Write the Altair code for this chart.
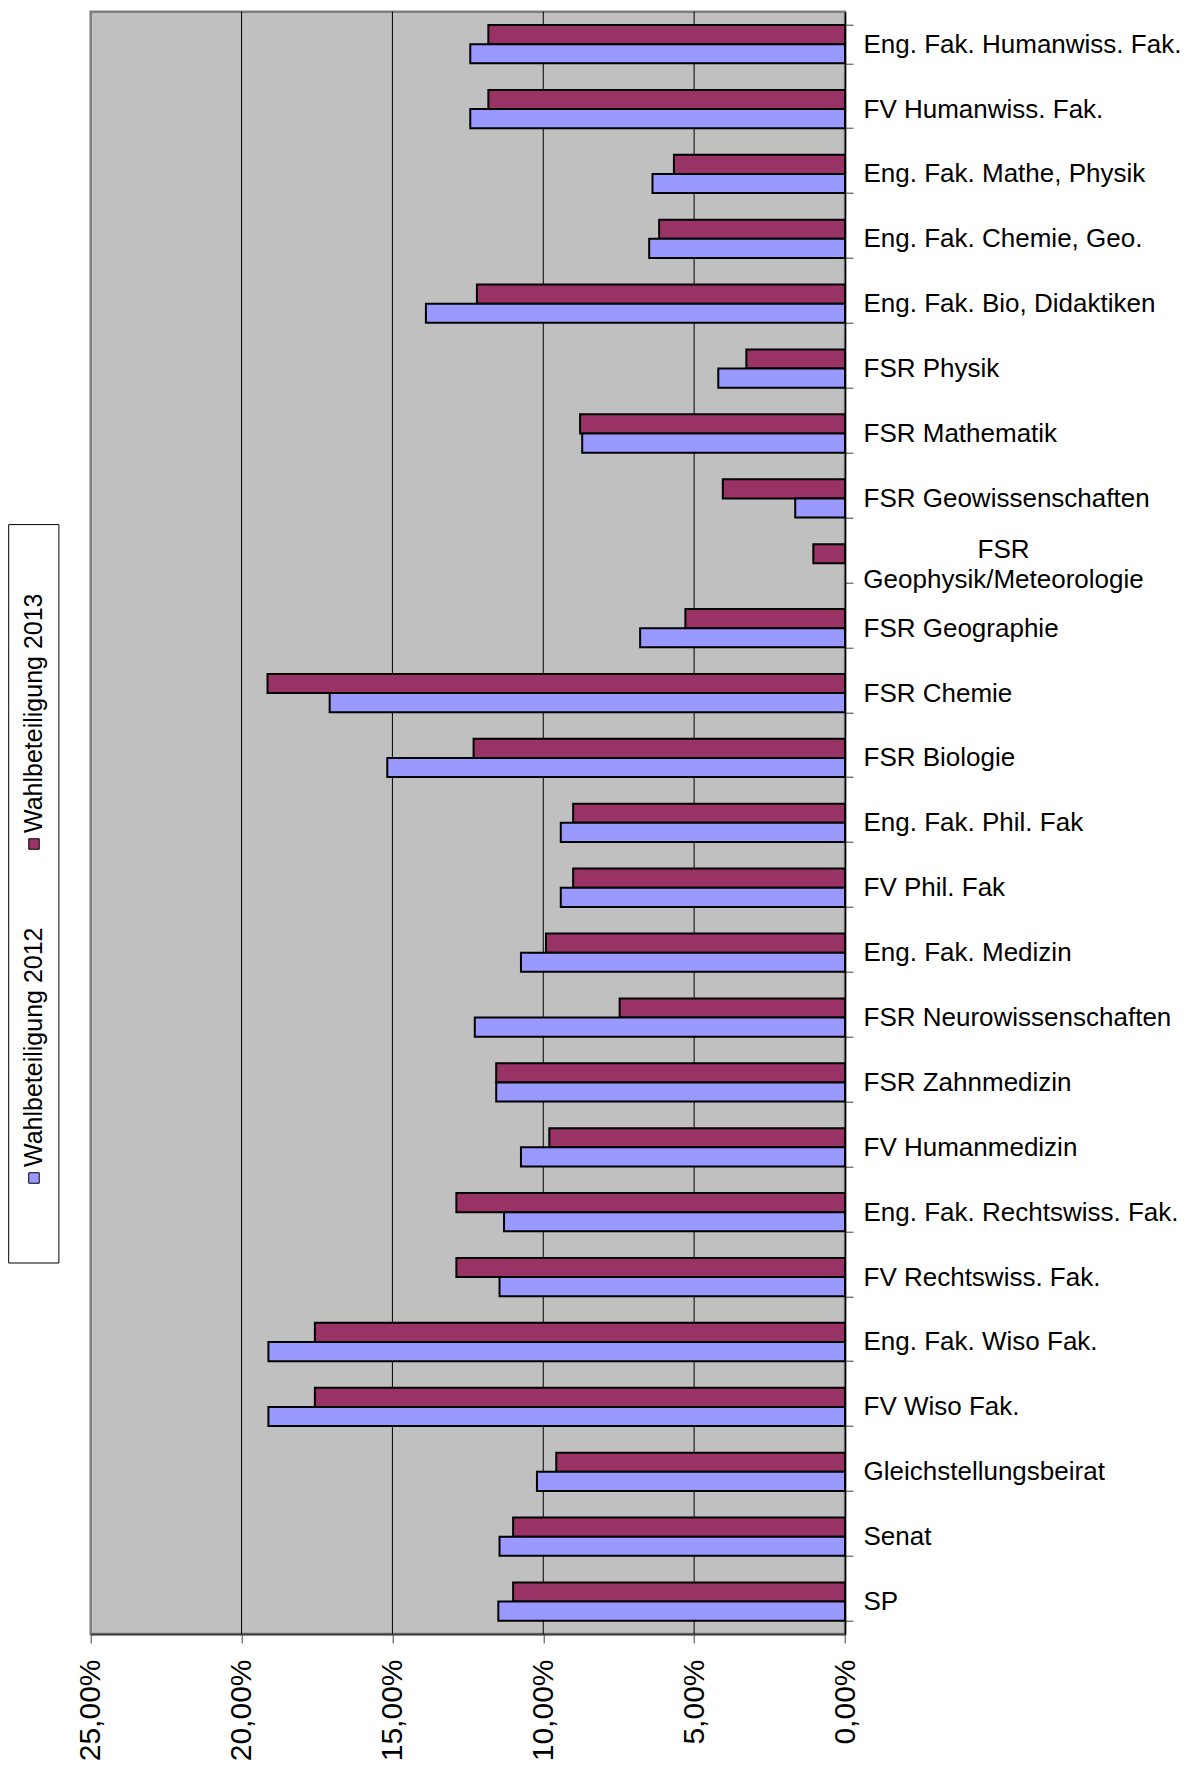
import altair as alt
import pandas as pd

categories = [
    "Eng. Fak. Humanwiss. Fak.",
    "FV Humanwiss. Fak.",
    "Eng. Fak. Mathe, Physik",
    "Eng. Fak. Chemie, Geo.",
    "Eng. Fak. Bio, Didaktiken",
    "FSR Physik",
    "FSR Mathematik",
    "FSR Geowissenschaften",
    "FSR Geophysik/Meteorologie",
    "FSR Geographie",
    "FSR Chemie",
    "FSR Biologie",
    "Eng. Fak. Phil. Fak",
    "FV Phil. Fak",
    "Eng. Fak. Medizin",
    "FSR Neurowissenschaften",
    "FSR Zahnmedizin",
    "FV Humanmedizin",
    "Eng. Fak. Rechtswiss. Fak.",
    "FV Rechtswiss. Fak.",
    "Eng. Fak. Wiso Fak.",
    "FV Wiso Fak.",
    "Gleichstellungsbeirat",
    "Senat",
    "SP",
]

wb_2013 = [0.1182, 0.1182, 0.0567, 0.0616, 0.1220, 0.0327, 0.0878, 0.0405, 0.0105,
           0.0529, 0.1914, 0.1231, 0.0901, 0.0901, 0.0991, 0.0747, 0.1156, 0.0980,
           0.1288, 0.1288, 0.1757, 0.1757, 0.0957, 0.1100, 0.1100]
wb_2012 = [0.1242, 0.1242, 0.0638, 0.0649, 0.1389, 0.0420, 0.0871, 0.0165, None,
           0.0679, 0.1708, 0.1517, 0.0942, 0.0942, 0.1074, 0.1227, 0.1156, 0.1074,
           0.1130, 0.1145, 0.1911, 0.1911, 0.1021, 0.1145, 0.1149]

series_names = ["Wahlbeteiligung 2013", "Wahlbeteiligung 2012"]
series_colors = ["#993366", "#9999FF"]
x_ticks = [0, 0.05, 0.10, 0.15, 0.20, 0.25]
grid_vals = [0.05, 0.10, 0.15, 0.20]

rows = []
for c, a, b in zip(categories, wb_2013, wb_2012):
    rows.append({"Kategorie": c, "Serie": series_names[0], "Wert": a})
    rows.append({"Kategorie": c, "Serie": series_names[1], "Wert": b})
df = pd.DataFrame(rows)

FONT = "Liberation Sans"
TWO_LINE = "FSR Geophysik/Meteorologie"
is_two = "datum.value == '" + TWO_LINE + "'"

x_scale = alt.Scale(domain=[0, 0.25], reverse=True, nice=False, zero=True)
x_axis = alt.Axis(
    values=x_ticks,
    labelExpr="replace(format(datum.value, '.2%'), '.', ',')",
    labelAngle=270,
    labelFontSize=30,
    labelFont=FONT,
    labelColor="black",
    labelPadding=16,
    labelOverlap=False,
    labelBound=False,
    labelFlush=False,
    tickSize=9,
    tickColor="#404040",
    domainColor="#404040",
    domainWidth=2,
    grid=False,
    title=None,
)

y_axis = alt.Axis(
    orient="right",
    labelExpr=(is_two + " ? ['FSR', 'Geophysik/Meteorologie'] : datum.value"),
    labelFontSize=26,
    labelFont=FONT,
    labelColor="black",
    labelAlign={"condition": {"test": is_two, "value": "center"}, "value": "left"},
    labelBaseline="middle",
    labelLineHeight=30,
    labelPadding={"condition": {"test": is_two, "value": 150}, "value": 10},
    labelOffset={"condition": {"test": is_two, "value": -14}, "value": 0},
    labelLimit=0,
    labelOverlap=False,
    tickBand="extent",
    tickSize=8,
    tickColor="#404040",
    domainColor="black",
    domainWidth=1.5,
    title=None,
)

color_scale = alt.Scale(domain=series_names, range=series_colors)

grid = alt.Chart(pd.DataFrame({"Wert": grid_vals})).mark_rule(
    color="black", strokeWidth=1
).encode(x=alt.X("Wert:Q", scale=x_scale, axis=x_axis))

bars = alt.Chart(df).mark_bar(stroke="black", strokeWidth=2).encode(
    y=alt.Y("Kategorie:N", sort=categories, axis=y_axis,
            scale=alt.Scale(paddingInner=0.41, paddingOuter=0.205)),
    x=alt.X("Wert:Q", scale=x_scale, axis=x_axis),
    yOffset=alt.YOffset("Serie:N", sort=series_names,
                        scale=alt.Scale(paddingInner=0, paddingOuter=0)),
    color=alt.Color("Serie:N", scale=color_scale, legend=None),
)

legend_df = pd.DataFrame({"Serie": series_names})

legend_box = alt.Chart(pd.DataFrame({"k": [0]})).mark_rect(
    fill="white", stroke="black", strokeWidth=1
).encode(
    x=alt.value(-82.0), x2=alt.value(-31.8),
    y=alt.value(512.9), y2=alt.value(1251.3),
)

legend_layers = []
for name, ty in zip(series_names, [821.3, 1155.3]):
    sq = alt.Chart(legend_df).transform_filter(
        alt.datum.Serie == name
    ).mark_square(size=110, stroke="black", strokeWidth=1, opacity=1).encode(
        x=alt.value(-56.7), y=alt.value(ty + 11),
        color=alt.Color("Serie:N", scale=color_scale, legend=None),
    )
    tx = alt.Chart(legend_df).transform_filter(
        alt.datum.Serie == name
    ).mark_text(
        angle=270, align="left", baseline="middle", font=FONT, fontSize=25, color="black"
    ).encode(
        x=alt.value(-56.7), y=alt.value(ty), text="Serie:N",
    )
    legend_layers += [sq, tx]

chart = alt.layer(grid, bars, legend_box, *legend_layers).properties(
    width=754.3,
    height=1622.3,
    background="white",
    autosize=alt.AutoSizeParams(type="none"),
    padding={"left": 82.7, "top": 3.7, "right": 345, "bottom": 131},
).configure_view(
    fill="#C0C0C0", stroke="#808080", strokeWidth=2.5
)

chart.save("out.html", embed_options={"renderer": "svg", "actions": False})
